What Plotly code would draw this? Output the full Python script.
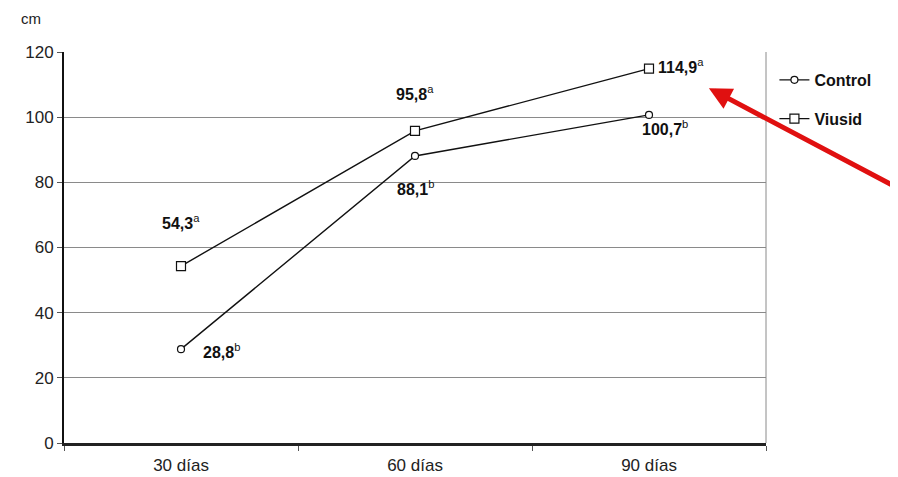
import plotly.graph_objects as go

categories = ["30 días", "60 días", "90 días"]
control = [28.8, 88.1, 100.7]
viusid = [54.3, 95.8, 114.9]
control_vals = ["28,8", "88,1", "100,7"]
control_sup = ["b", "b", "b"]
viusid_vals = ["54,3", "95,8", "114,9"]
viusid_sup = ["a", "a", "a"]
y_ticks = [0, 20, 40, 60, 80, 100, 120]

fig = go.Figure()
fig.add_trace(go.Scatter(
    x=categories, y=control, name="Control", mode="lines+markers", legendgroup="c",
    line=dict(color="#111111", width=1.4),
    marker=dict(symbol="circle", size=7, color="white", line=dict(color="#111111", width=1.2)),
))
fig.add_trace(go.Scatter(
    x=categories, y=viusid, name="Viusid", mode="lines+markers", legendgroup="v",
    line=dict(color="#111111", width=1.4),
    marker=dict(symbol="square", size=9, color="white", line=dict(color="#111111", width=1.2)),
))

lab_font = dict(family="Liberation Sans, Arial", size=16, color="#111111")
control_off = [(40, 2), (0, 32), (16, 13)]
viusid_off = [(0, -44), (0, -38), (32, -3)]
for i, c in enumerate(categories):
    fig.add_annotation(x=c, y=control[i],
                       text="<b>" + control_vals[i] + "</b><sup>" + control_sup[i] + "</sup>",
                       showarrow=False, xshift=control_off[i][0], yshift=-control_off[i][1], font=lab_font)
    fig.add_annotation(x=c, y=viusid[i],
                       text="<b>" + viusid_vals[i] + "</b><sup>" + viusid_sup[i] + "</sup>",
                       showarrow=False, xshift=viusid_off[i][0], yshift=-viusid_off[i][1], font=lab_font)

# red arrow
fig.add_annotation(x=2.256, y=108.9, xref="x", yref="y", ax=190, ay=100, text="",
                   showarrow=True, arrowhead=2, arrowsize=0.9, arrowwidth=5, arrowcolor="#e01010")

fig.add_annotation(x=-0.03, y=1.085, xref="paper", yref="paper", text="cm", showarrow=False,
                   xanchor="right", yanchor="middle",
                   font=dict(family="Liberation Sans, Arial", size=15, color="#222"))

fig.update_layout(
    width=890, height=469,
    margin=dict(l=56, r=132, t=44, b=34),
    paper_bgcolor="white", plot_bgcolor="white",
    showlegend=True,
    legend=dict(x=1.012, y=0.972, xanchor="left", yanchor="top",
                font=dict(family="Liberation Sans, Arial", size=16, color="#111111", weight="bold"),
                tracegroupgap=15, itemwidth=30, bgcolor="rgba(0,0,0,0)"),
    font=dict(family="Liberation Sans, Arial", size=16, color="#222"),
)
fig.update_xaxes(
    type="category", range=[-0.5, 2.5], tickson="boundaries", ticks="outside", ticklen=5,
    tickcolor="#555", showline=True, linecolor="#222", linewidth=2.5, mirror=False,
    showgrid=False, tickfont=dict(size=17, color="#222"), automargin=False,
    ticklabelstandoff=5,
)
fig.update_yaxes(
    range=[0, 120], tickvals=y_ticks, ticks="outside", ticklen=5, tickcolor="#555",
    showline=True, linecolor="#111", linewidth=2, gridcolor="#8a8a8a", gridwidth=1,
    zeroline=False, tickfont=dict(size=17, color="#222"), automargin=False,
)
fig.add_shape(type="line", xref="paper", yref="paper", x0=1, x1=1, y0=0, y1=1,
              line=dict(color="#8a8a8a", width=1))

fig.write_html("out.html")
